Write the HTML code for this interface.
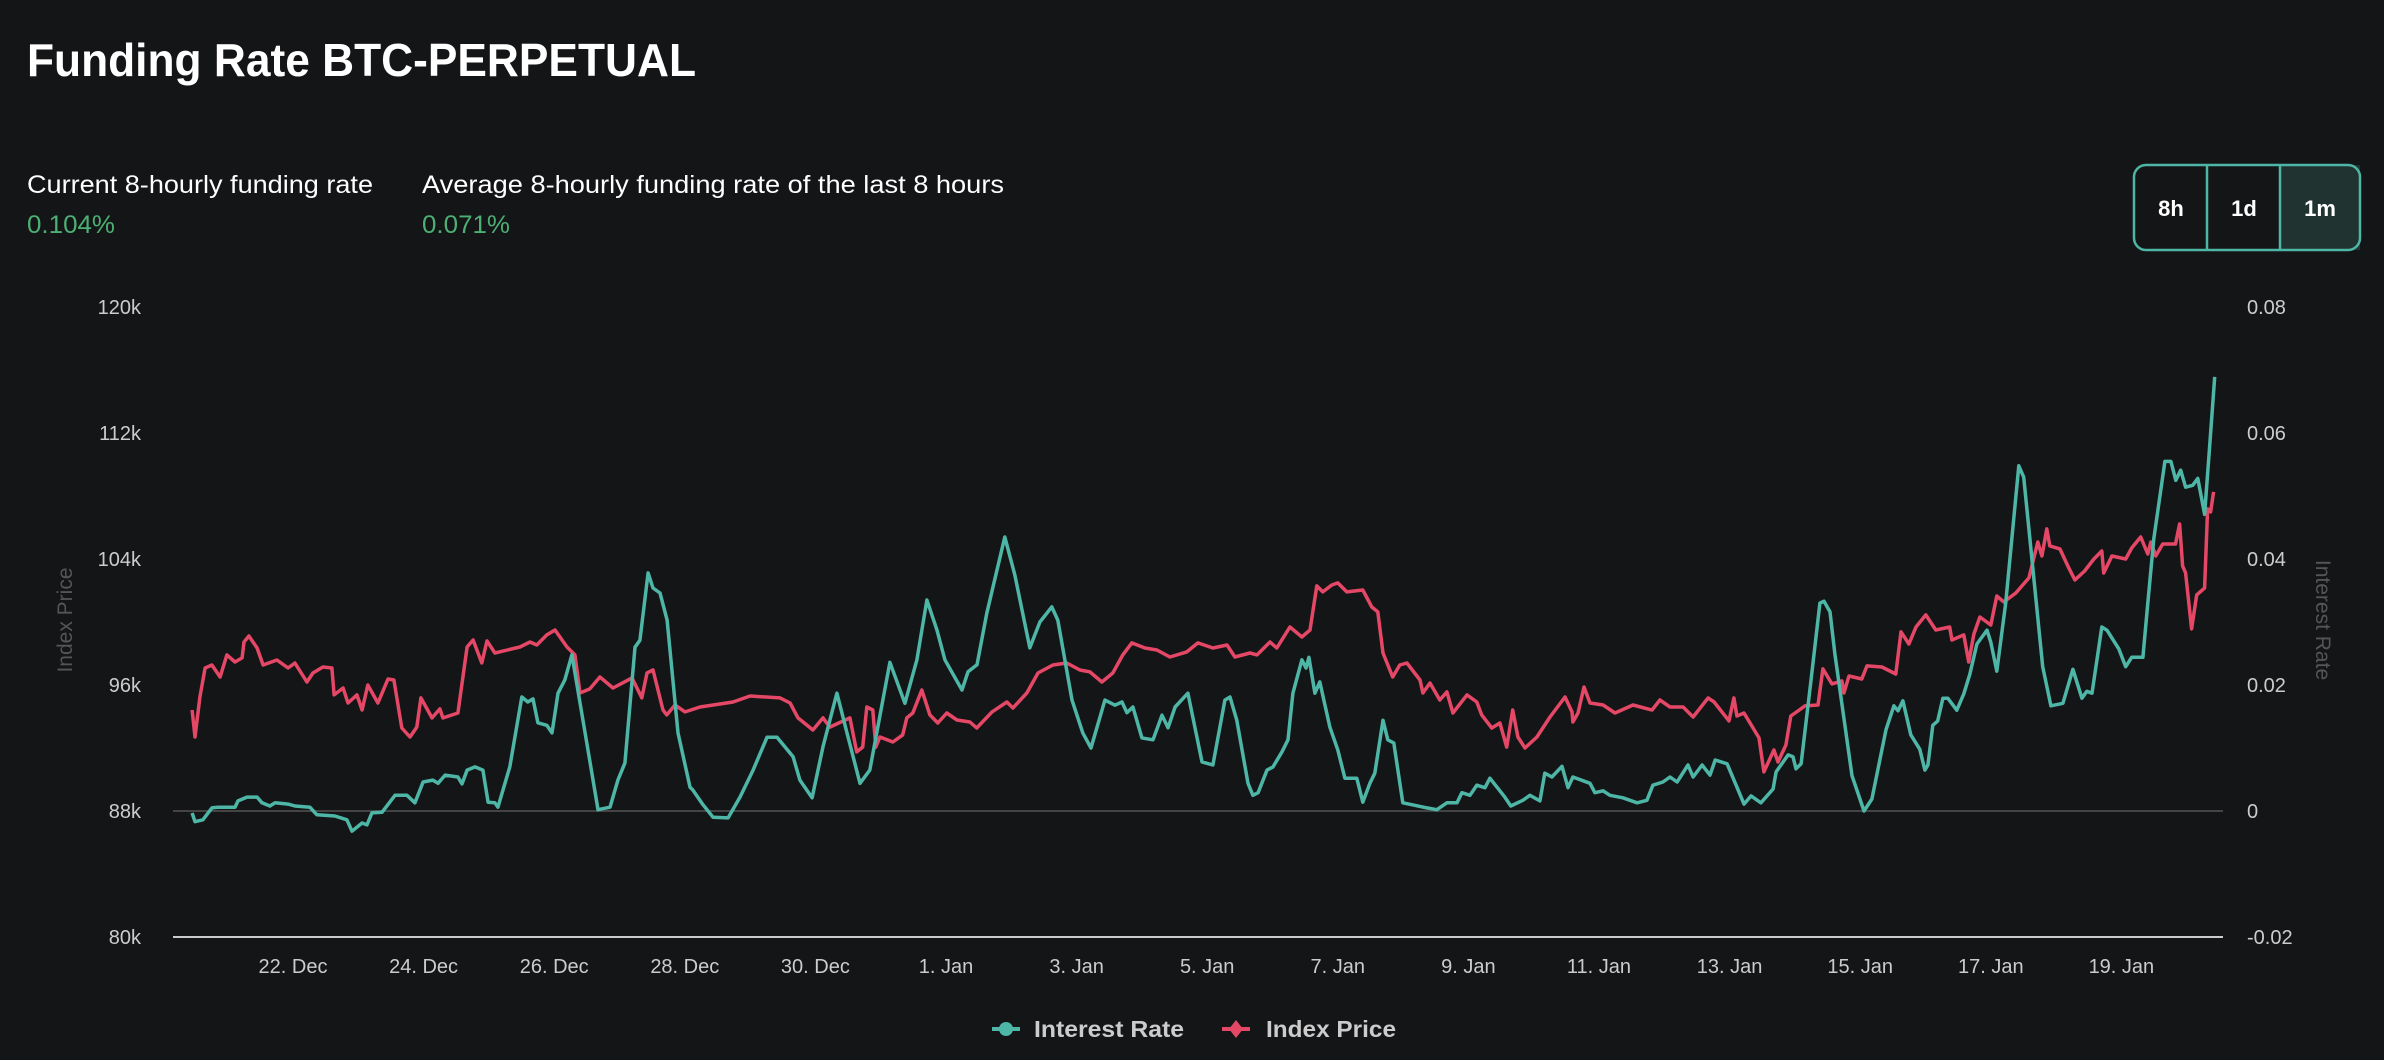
<!DOCTYPE html>
<html><head><meta charset="utf-8"><title>Funding Rate BTC-PERPETUAL</title>
<style>
html,body{margin:0;padding:0;background:#141517;}
svg{display:block;font-family:"Liberation Sans",sans-serif;}
.btn{cursor:pointer;}
</style></head>
<body>
<svg id="chart" width="2384" height="1060" viewBox="0 0 2384 1060" xmlns="http://www.w3.org/2000/svg">
<rect x="0" y="0" width="2384" height="1060" fill="#141517"/>
<text x="27" y="76" font-size="46" font-weight="bold" fill="#ffffff" textLength="669" lengthAdjust="spacingAndGlyphs">Funding Rate BTC-PERPETUAL</text>
<text x="27" y="193" font-size="25" fill="#ffffff" textLength="346" lengthAdjust="spacingAndGlyphs">Current 8-hourly funding rate</text>
<text x="27" y="233" font-size="25" fill="#4caf73" textLength="88" lengthAdjust="spacingAndGlyphs">0.104%</text>
<text x="422" y="193" font-size="25" fill="#ffffff" textLength="582" lengthAdjust="spacingAndGlyphs">Average 8-hourly funding rate of the last 8 hours</text>
<text x="422" y="233" font-size="25" fill="#4caf73" textLength="88" lengthAdjust="spacingAndGlyphs">0.071%</text>

<g>
<rect x="2280" y="165" width="80" height="85" fill="#213331"/>
<rect x="2134" y="165" width="226" height="85" rx="12" ry="12" fill="none" stroke="#4db6a6" stroke-width="2.5"/>
<line x1="2207" y1="165" x2="2207" y2="250" stroke="#4db6a6" stroke-width="2.5"/>
<line x1="2280" y1="165" x2="2280" y2="250" stroke="#4db6a6" stroke-width="2.5"/>
<text class="btn" x="2171" y="216" font-size="22" font-weight="bold" fill="#fff" text-anchor="middle">8h</text>
<text class="btn" x="2244" y="216" font-size="22" font-weight="bold" fill="#fff" text-anchor="middle">1d</text>
<text class="btn" x="2320" y="216" font-size="22" font-weight="bold" fill="#fff" text-anchor="middle">1m</text>
</g>

<text transform="translate(72,620) rotate(-90)" font-size="21" fill="#555" text-anchor="middle">Index Price</text>
<text transform="translate(2316,620) rotate(90)" font-size="21" fill="#555" text-anchor="middle">Interest Rate</text>

<g id="axes"></g>
<g id="series"></g>

<g>
<g class="btn">
<line x1="992" y1="1029" x2="1020" y2="1029" stroke="#4db6a6" stroke-width="4"/>
<circle cx="1006" cy="1029" r="7" fill="#4db6a6"/>
<text x="1034" y="1037" font-size="23" font-weight="bold" fill="#cccccc" textLength="150" lengthAdjust="spacingAndGlyphs">Interest Rate</text>
</g>
<g class="btn">
<line x1="1222" y1="1029" x2="1250" y2="1029" stroke="#e54866" stroke-width="4"/>
<path d="M1236 1020 L1243 1029 L1236 1038 L1229 1029 Z" fill="#e54866"/>
<text x="1266" y="1037" font-size="23" font-weight="bold" fill="#cccccc" textLength="130" lengthAdjust="spacingAndGlyphs">Index Price</text>
</g>
</g>
</svg>
<script>
// hours since 20 Dec 00:00 for each sample
const priceHours = [10.9,12.0,13.8,15.7,18.2,21.2,23.7,26.7,29.3,30.0,31.8,34.8,37.0,42.1,46.2,48.7,53.1,55.3,59.0,62.3,63.1,66.4,68.2,71.5,73.4,75.5,79.2,82.9,85.1,88.0,91.0,93.5,95.0,99.1,102.0,103.1,108.6,112.0,114.2,117.4,119.3,122.2,131.4,135.1,137.6,141.3,144.3,148.7,151.6,153.5,157.1,160.8,165.6,172.6,176.2,178.1,180.3,184.0,185.4,188.4,192.1,197.6,209.7,216.0,227.0,230.7,233.6,239.1,242.8,245.3,252.7,255.2,257.4,258.9,261.1,262.2,263.7,268.5,272.1,273.6,275.8,279.1,282.1,285.0,288.3,292.0,296.8,299.3,304.9,310.4,312.6,317.7,321.8,327.3,332.4,337.2,340.9,345.3,349.3,353.0,356.3,361.1,365.5,370.3,376.5,380.6,386.1,391.3,394.2,399.7,402.3,407.1,409.6,414.4,418.8,421.8,424.3,426.5,429.8,432.0,435.3,441.2,444.5,446.7,448.6,452.2,454.8,457.4,462.2,463.3,465.9,469.5,472.1,474.3,479.5,483.1,484.9,488.6,491.6,494.1,496.3,498.2,500.8,505.2,510.0,515.5,518.1,518.4,520.3,522.5,524.7,529.5,533.9,540.5,547.5,550.4,554.1,558.9,562.6,568.1,570.3,575.8,577.6,578.7,581.3,586.8,588.6,592.3,593.8,596.7,598.5,601.1,603.7,608.5,610.3,613.6,617.3,618.0,619.9,624.6,626.5,632.0,637.1,639.0,641.9,644.5,648.1,651.8,656.9,657.7,662.1,663.9,665.8,668.0,672.0,674.2,676.8,681.2,686.0,689.3,690.8,692.6,693.7,697.4,700.3,702.9,706.5,709.9,712.8,713.5,716.5,721.6,723.8,727.1,729.7,730.8,732.6,735.2,739.9,741.4,742.5,743.6,745.8,747.7,750.6,751.7,752.8,753.9];
const priceValues = [94410,92700,95240,97080,97270,96510,97910,97460,97720,98730,99110,98350,97270,97590,97080,97400,96190,96760,97140,97080,95370,95810,94860,95370,94410,96000,94860,96380,96320,93270,92700,93330,95180,93910,94480,93910,94220,98410,98860,97400,98800,98030,98410,98730,98540,99180,99490,98410,97910,95490,95750,96510,95810,96450,95180,96760,96950,94410,94100,94730,94290,94600,94920,95300,95180,94860,93910,93140,93910,93330,93910,91750,92060,94600,94410,92060,92700,92380,92830,93910,94220,95680,94100,93590,94220,93780,93650,93270,94290,94920,94540,95490,96760,97270,97400,96950,96830,96190,96760,97910,98670,98350,98220,97780,98100,98670,98350,98540,97780,98030,97910,98730,98350,99680,99050,99490,102290,101910,102350,102480,101910,102030,100950,100640,98030,96510,97270,97400,96320,95490,96130,95050,95560,94220,95370,94920,94100,93270,93590,92060,94410,92700,92000,92700,93970,95240,94290,93650,94220,95870,94860,94730,94220,94730,94410,95050,94600,94600,93970,95180,94920,93720,95180,94030,94220,92640,90480,91870,91110,92190,94030,94350,94670,94730,97020,96070,96260,95490,96570,96380,97210,97140,96700,99370,98600,99680,100450,99490,99680,98860,99180,97460,99240,100320,99810,101650,101270,101840,102800,105080,104190,105910,104830,104640,103560,102670,103240,104000,104510,103110,104190,104000,104700,105400,104320,105080,104190,104950,104950,106220,103560,103110,99560,101720,102160,107180,106990,108260];
const rateHours = [10.9,12.0,14.9,18.2,20.4,26.7,27.8,31.1,34.8,36.6,39.5,41.4,46.2,48.7,54.2,56.8,63.4,67.8,69.7,73.4,75.2,77.0,80.7,85.5,89.9,92.8,95.8,99.4,101.3,103.9,108.6,110.1,112.0,114.9,117.8,119.7,122.2,123.3,127.7,132.1,134.3,136.2,138.0,141.3,143.2,145.4,147.9,150.5,156.0,160.1,164.5,167.4,170.0,173.7,175.5,178.5,180.3,182.9,185.5,189.5,193.9,195.0,198.7,202.4,207.9,212.3,217.1,222.2,225.9,231.8,234.3,238.8,242.8,247.9,251.6,256.4,260.0,267.4,272.9,277.3,281.0,284.7,287.6,293.9,296.1,299.4,303.0,309.6,313.3,318.8,322.5,326.9,329.1,334.3,338.3,341.3,346.4,350.1,352.7,354.5,356.7,360.0,364.1,367.4,369.6,372.2,376.9,382.1,386.1,390.5,392.4,394.9,399.0,400.8,402.7,406.0,408.2,411.5,413.7,415.5,418.8,420.3,421.4,423.6,425.4,429.1,432.0,434.6,439.0,441.2,443.8,445.6,448.6,450.4,452.6,455.9,459.2,464.8,468.4,472.1,475.8,477.6,480.6,483.1,486.1,487.9,493.4,495.6,500.0,502.6,506.3,508.1,510.7,514.4,516.6,518.4,524.7,526.5,529.5,532.0,536.8,542.0,545.6,547.8,551.5,554.1,556.7,560.7,562.6,565.9,568.8,570.7,575.1,578.7,581.3,583.9,587.5,592.0,593.1,597.5,599.3,600.4,602.3,605.9,609.2,610.7,612.9,614.7,621.0,625.4,628.3,633.5,636.4,637.9,639.7,642.6,645.9,647.8,648.9,650.7,652.5,654.4,656.2,659.5,662.1,664.3,666.9,670.6,672.0,674.2,677.5,682.3,684.1,691.1,694.1,698.5,702.2,705.5,707.3,709.2,712.8,714.7,719.1,721.6,723.8,727.9,729.7,731.9,736.0,738.2,740.0,741.8,743.6,746.2,748.1,750.6,752.5,754.3];
const rateValues = [-0.0003,-0.0017,-0.0014,0.0005,0.0006,0.0006,0.0016,0.0022,0.0022,0.0013,0.0008,0.0013,0.0011,0.0008,0.0006,-0.0006,-0.0008,-0.0014,-0.0032,-0.0019,-0.0022,-0.0003,-0.0002,0.0025,0.0025,0.0013,0.0046,0.0049,0.0044,0.0057,0.0054,0.0043,0.0065,0.0070,0.0065,0.0014,0.0013,0.0006,0.0070,0.0181,0.0173,0.0178,0.0140,0.0136,0.0124,0.0187,0.0208,0.0248,0.0108,0.0002,0.0006,0.0049,0.0076,0.0260,0.0271,0.0378,0.0354,0.0346,0.0303,0.0124,0.0038,0.0033,0.0010,-0.0010,-0.0011,0.0022,0.0065,0.0117,0.0117,0.0086,0.0049,0.0021,0.0102,0.0187,0.0124,0.0044,0.0065,0.0236,0.0171,0.0240,0.0335,0.0287,0.0240,0.0192,0.0221,0.0232,0.0314,0.0435,0.0375,0.0259,0.0300,0.0324,0.0303,0.0176,0.0124,0.0100,0.0176,0.0168,0.0173,0.0156,0.0165,0.0116,0.0113,0.0152,0.0132,0.0165,0.0187,0.0078,0.0073,0.0176,0.0181,0.0144,0.0044,0.0025,0.0029,0.0065,0.0070,0.0094,0.0113,0.0187,0.0240,0.0227,0.0244,0.0187,0.0205,0.0133,0.0097,0.0052,0.0052,0.0014,0.0044,0.0060,0.0144,0.0113,0.0108,0.0013,0.0010,0.0005,0.0002,0.0013,0.0013,0.0029,0.0025,0.0041,0.0037,0.0052,0.0022,0.0008,0.0017,0.0025,0.0016,0.0060,0.0054,0.0071,0.0037,0.0054,0.0044,0.0029,0.0032,0.0025,0.0021,0.0013,0.0017,0.0041,0.0046,0.0054,0.0046,0.0073,0.0054,0.0073,0.0057,0.0081,0.0075,0.0038,0.0011,0.0024,0.0013,0.0035,0.0062,0.0089,0.0086,0.0067,0.0075,0.0206,0.0330,0.0333,0.0316,0.0249,0.0056,0.0000,0.0019,0.0129,0.0167,0.0159,0.0175,0.0121,0.0098,0.0065,0.0073,0.0136,0.0143,0.0179,0.0179,0.0160,0.0186,0.0217,0.0265,0.0287,0.0268,0.0222,0.0330,0.0548,0.0530,0.0229,0.0167,0.0171,0.0225,0.0179,0.0190,0.0187,0.0292,0.0287,0.0257,0.0229,0.0244,0.0244,0.0330,0.0432,0.0555,0.0555,0.0525,0.0541,0.0514,0.0517,0.0528,0.0471,0.0582,0.0689];
const priceTicks = [80000,88000,96000,104000,112000,120000];
const priceTickLabels = ["80k","88k","96k","104k","112k","120k"];
const rateTicks = [-0.02,0,0.02,0.04,0.06,0.08];
const rateTickLabels = ["-0.02","0","0.02","0.04","0.06","0.08"];
const dateTickHours = [48,96,144,192,240,288,336,384,432,480,528,576,624,672,720];
const dateTickLabels = ["22. Dec","24. Dec","26. Dec","28. Dec","30. Dec","1. Jan","3. Jan","5. Jan","7. Jan","9. Jan","11. Jan","13. Jan","15. Jan","17. Jan","19. Jan"];

const NS = "http://www.w3.org/2000/svg";
const plotLeft = 173, plotRight = 2223, yTop = 307, yBottom = 937;
function xScale(h){ return 162.4 + h * 2.7208; }
function yPrice(p){ return yBottom - (p - 80000) / 40000 * (yBottom - yTop); }
function yRate(r){ return yBottom - (r + 0.02) / 0.10 * (yBottom - yTop); }
function mk(tag, attrs){ const e = document.createElementNS(NS, tag); for (const k in attrs) e.setAttribute(k, attrs[k]); return e; }

const axes = document.getElementById('axes');
const zl = mk('line', {x1: plotLeft, x2: plotRight, y1: yPrice(88000), y2: yPrice(88000), stroke: '#444', 'stroke-width': 2});


axes.appendChild(zl);
const xl = mk('line', {x1: plotLeft, x2: plotRight, y1: yBottom, y2: yBottom, stroke: '#cccccc', 'stroke-width': 2});


axes.appendChild(xl);
priceTicks.forEach((v, i) => {
  const t = mk('text', {x: 141, y: yPrice(v) + 7, 'font-size': 20, fill: '#cccccc', 'text-anchor': 'end'});
  t.textContent = priceTickLabels[i];
  
  
  axes.appendChild(t);
});
rateTicks.forEach((v, i) => {
  const t = mk('text', {x: 2247, y: yRate(v) + 7, 'font-size': 20, fill: '#cccccc'});
  t.textContent = rateTickLabels[i];
  
  
  axes.appendChild(t);
});
dateTickHours.forEach((h, i) => {
  const t = mk('text', {x: xScale(h), y: 973, 'font-size': 20, fill: '#cccccc', 'text-anchor': 'middle'});
  t.textContent = dateTickLabels[i];
  
  
  axes.appendChild(t);
});

const series = document.getElementById('series');
const pricePts = priceHours.map((h, i) => xScale(h).toFixed(1) + ',' + yPrice(priceValues[i]).toFixed(1)).join(' ');
const pl = mk('polyline', {points: pricePts, fill: 'none', stroke: '#e54866', 'stroke-width': 3.5, 'stroke-linejoin': 'round'});


series.appendChild(pl);
const ratePts = rateHours.map((h, i) => xScale(h).toFixed(1) + ',' + yRate(rateValues[i]).toFixed(1)).join(' ');
const rl = mk('polyline', {points: ratePts, fill: 'none', stroke: '#4db6a6', 'stroke-width': 3.5, 'stroke-linejoin': 'round'});


series.appendChild(rl);
</script>
</body></html>
